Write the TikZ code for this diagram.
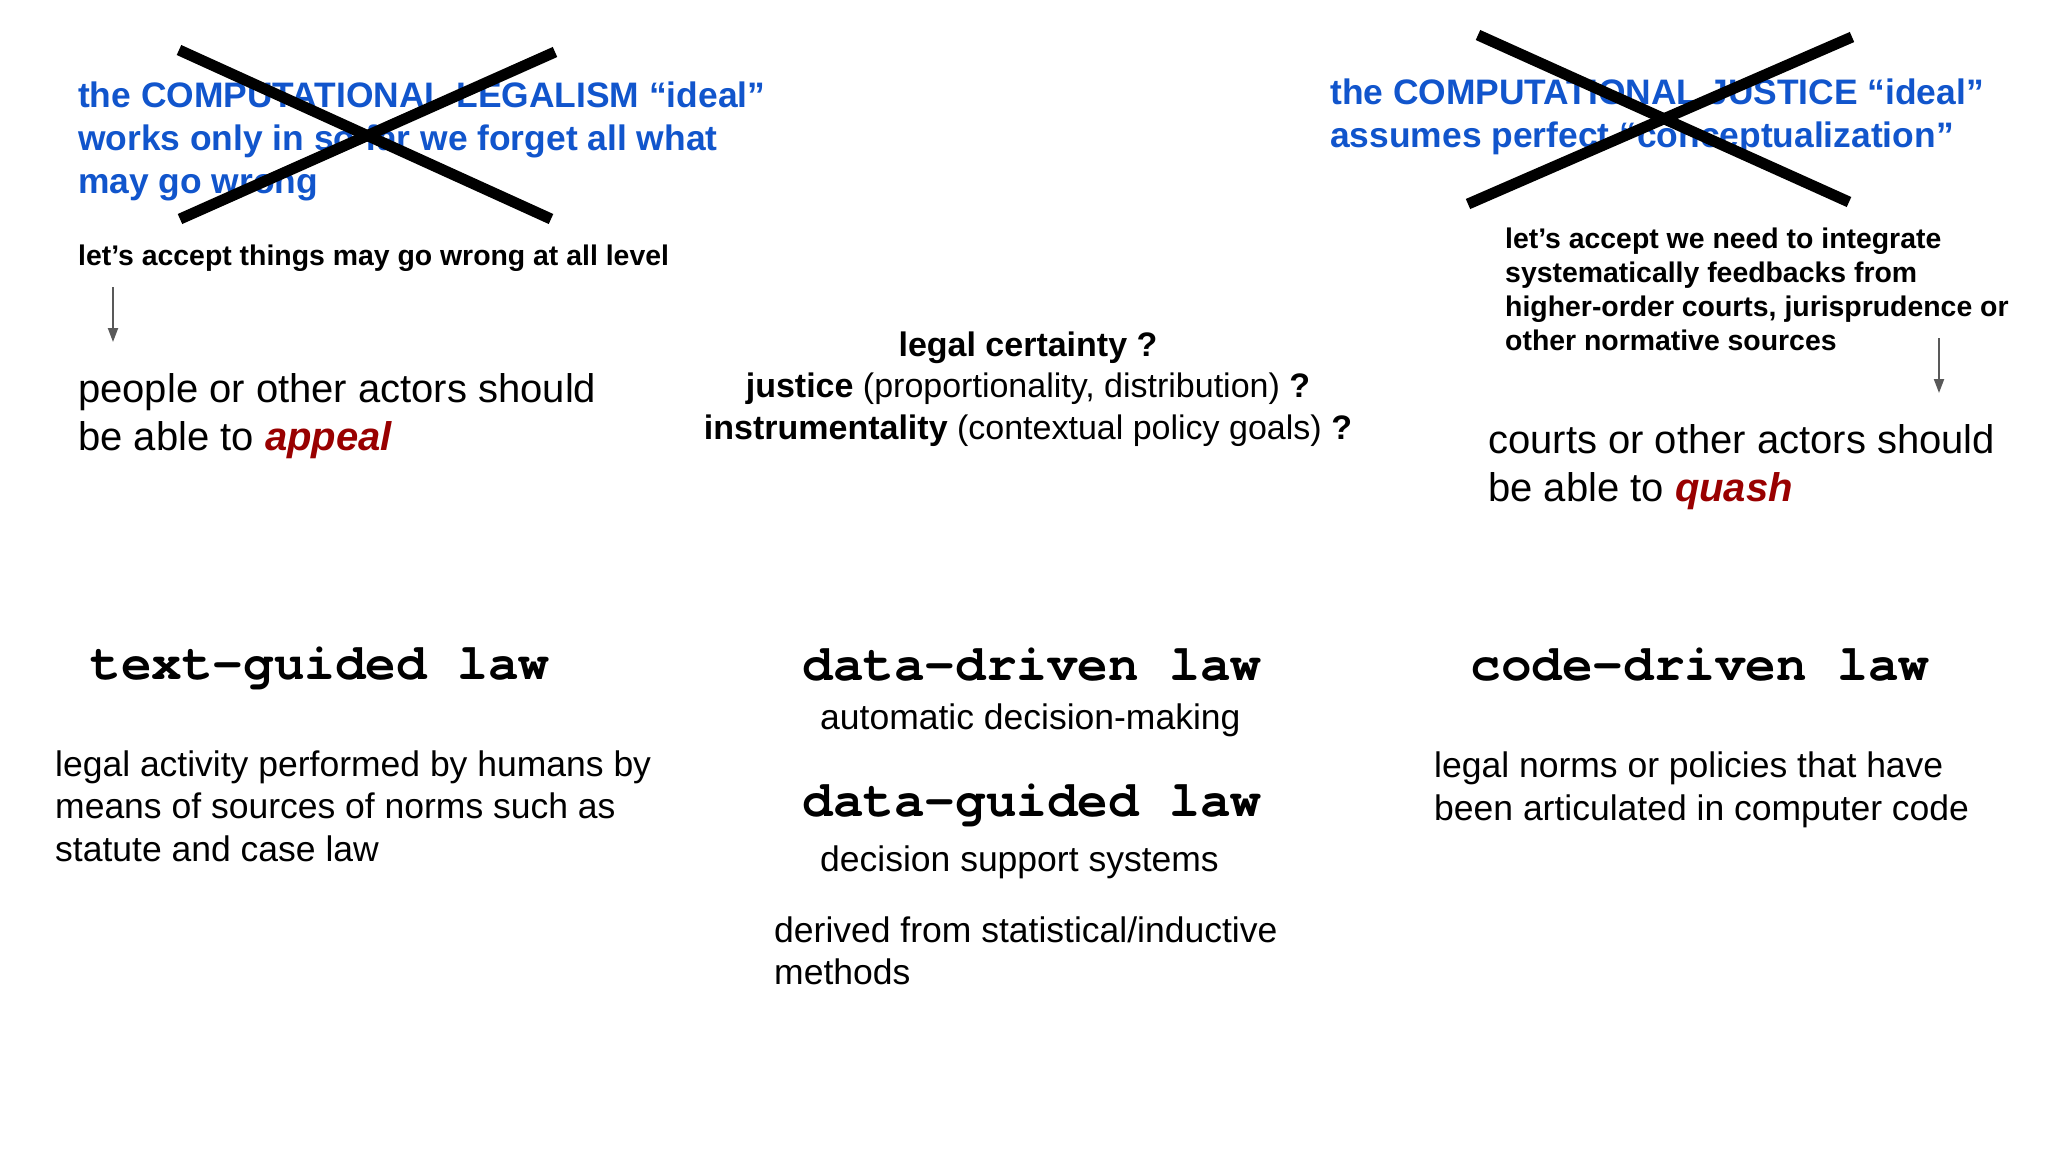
\documentclass[tikz,border=0pt]{standalone}
\usepackage{fontspec}
\setmainfont{Liberation Sans}
\setmonofont{texgyrecursor}[Extension=.otf, UprightFont=*-regular, BoldFont=*-bold]
\usetikzlibrary{arrows.meta}
\definecolor{idealblue}{RGB}{17,85,204}
\definecolor{verbred}{RGB}{153,0,0}
\definecolor{arrowgray}{RGB}{89,89,89}
\begin{document}
\begin{tikzpicture}[x=1pt, y=-1pt,
    every node/.style={inner sep=0pt},
    ideal/.style={anchor=west, align=left, text=idealblue, font=\fontsize{35.4}{43}\selectfont\bfseries},
    accept/.style={anchor=west, align=left, font=\fontsize{28.4}{34}\selectfont\bfseries},
    able/.style={anchor=west, align=left, font=\fontsize{40}{48.5}\selectfont},
    lawname/.style={anchor=base, font=\fontsize{51}{60}\selectfont\ttfamily\bfseries},
    descr/.style={anchor=west, align=left, font=\fontsize{35.5}{42.5}\selectfont},
    crossbar/.style={line width=11pt},
    pointer/.style={draw=arrowgray, line width=2pt, -{Triangle[length=14pt, width=10pt]}}]
  \fill[white] (0,0) rectangle (2048,1152);
  \useasboundingbox (0,0) rectangle (2048,1152);

  \node[ideal] (legalism) at (78,141) {the COMPUTATIONAL LEGALISM “ideal”\\works only in so far we forget all what\\may go wrong};
  \draw[crossbar] (179,50) -- (551,219);
  \draw[crossbar] (180,219) -- (555,52);
  \node[accept] (acceptwrong) at (78,258) {let’s accept things may go wrong at all level};
  \coordinate (appealtop) at (113,287);
  \coordinate (appealtip) at (113,342);
  \draw[pointer] (appealtop) -- (appealtip);
  \node[able] (appeal) at (78,416) {people or other actors should\\be able to \textcolor{verbred}{\textbf{\textit{appeal}}}};

  \node[align=center, font=\fontsize{34}{41.5}\selectfont] (values) at (1028,389)
    {\textbf{legal certainty ?}\\\textbf{justice} (proportionality, distribution) \textbf{?}\\\textbf{instrumentality} (contextual policy goals) \textbf{?}};

  \node[ideal] (justice) at (1330,117) {the COMPUTATIONAL JUSTICE “ideal”\\assumes perfect “conceptualization”};
  \draw[crossbar] (1478,35) -- (1849,202);
  \draw[crossbar] (1468,204) -- (1852,37);
  \node[accept] (acceptfeed) at (1505,289) {let’s accept we need to integrate\\systematically feedbacks from\\higher-order courts, jurisprudence or\\other normative sources};
  \coordinate (quashtop) at (1939,338);
  \coordinate (quashtip) at (1939,393);
  \draw[pointer] (quashtop) -- (quashtip);
  \node[able] (quash) at (1488,467) {courts or other actors should\\be able to \textcolor{verbred}{\textbf{\textit{quash}}}};

  \node[lawname] (textlaw) at (320,679) {text-guided law};
  \node[descr] (textdesc) at (55,806) {legal activity performed by humans by\\means of sources of norms such as\\statute and case law};

  \node[lawname] (drivenlaw) at (1032,680) {data-driven law};
  \node[descr] (drivendesc) at (820,720) {automatic decision-making};
  \node[lawname] (guidedlaw) at (1032,816) {data-guided law};
  \node[descr] (guideddesc) at (820,862) {decision support systems};
  \node[descr] (derived) at (774,951) {derived from statistical/inductive\\methods};

  \node[lawname] (codelaw) at (1700,680) {code-driven law};
  \node[descr] (codedesc) at (1434,790) {legal norms or policies that have\\been articulated in computer code};
\end{tikzpicture}
\end{document}
